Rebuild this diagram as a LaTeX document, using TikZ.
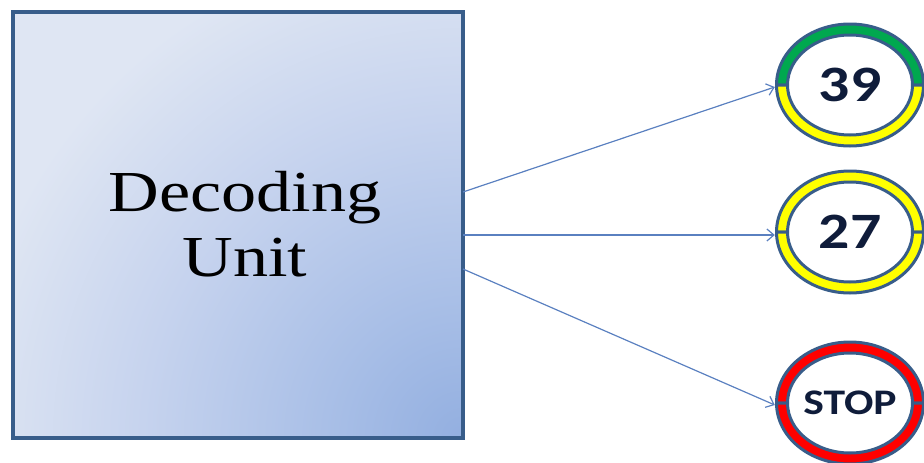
\documentclass[tikz,border=0pt]{standalone}
\usepackage{fontspec}
\usepackage{graphicx}
\setmainfont{Liberation Serif}
\newfontfamily\numfont{Carlito}
\usetikzlibrary{arrows.meta,calc,shapes.geometric}

\definecolor{edgeblue}{HTML}{385D8A}
\definecolor{boxlight}{HTML}{DFE6F3}
\definecolor{arrowblue}{HTML}{5A80C0}
\definecolor{navy}{HTML}{0F1C3A}
\definecolor{ringgreen}{HTML}{00A84F}
\definecolor{ringyellow}{HTML}{FFFF00}
\definecolor{ringred}{HTML}{FF0000}

% soft glow spreading from the lower right corner of the unit
% (the circle's radius corresponds to 25bp of the shading)
\pgfdeclareradialshading{cornerglow}{\pgfpointorigin}{%
  color(0bp)=(rgb,255:red,147;green,175;blue,224);
  color(6bp)=(rgb,255:red,166;green,189;blue,230);
  color(16bp)=(rgb,255:red,198;green,211;blue,238);
  color(25bp)=(rgb,255:red,223;green,230;blue,243);
  color(50bp)=(rgb,255:red,223;green,230;blue,243)}

\tikzset{
  unitbox/.style={draw=edgeblue, line width=4pt, minimum width=450pt, minimum height=425.5pt,
    fill=boxlight, inner sep=0pt,
    path picture={\shade[shading=cornerglow]
      (path picture bounding box.south east) circle[radius=500pt];}},
  unittext/.style={font=\fontsize{58}{65}\selectfont, align=center, text=black, inner sep=0pt},
  value/.style={ellipse, minimum width=150pt, minimum height=124pt, inner sep=0pt, text=navy},
  band/.style={draw=edgeblue, line width=3pt, line join=round},
  link/.style={draw=arrowblue, line width=1.2pt, -{Straight Barb[length=7pt,width=12pt]}},
}

% half of a coloured ring around a value node: centre, start angle, end angle, colour
\newcommand\ringhalf[4]{%
  \filldraw[band, fill=#4]
    ($(#1)+(#2:73.5pt and 61pt)$) arc[start angle=#2, end angle=#3, x radius=73.5pt, y radius=61pt]
    -- ($(#1)+(#3:62.5pt and 50pt)$) arc[start angle=#3, end angle=#2, x radius=62.5pt, y radius=50pt]
    -- cycle;}

\newcommand\wide[1]{\scalebox{1.21}[1]{#1}}

\begin{document}
\begin{tikzpicture}[x=1pt, y=-1pt]
  \useasboundingbox (0,0) rectangle (924,463);

  % decoding unit
  \node[unitbox] (unit) at (237.5,224.75) {};
  \node[unittext] (label) at (245,224) {\wide{Decoding}\\\wide{Unit}};

  % output values
  \node[value, font=\numfont\bfseries\fontsize{51}{60}\selectfont] (v39) at (850,85) {\wide{39}};
  \node[value, font=\numfont\bfseries\fontsize{51}{60}\selectfont] (v27) at (850,232) {\wide{27}};
  \node[value, font=\numfont\bfseries\fontsize{36}{44}\selectfont] (vstop) at (850,403) {\wide{STOP}};

  \ringhalf{v39}{0}{180}{ringgreen}
  \ringhalf{v39}{180}{360}{ringyellow}
  \ringhalf{v27}{0}{180}{ringyellow}
  \ringhalf{v27}{180}{360}{ringyellow}
  \ringhalf{vstop}{0}{180}{ringred}
  \ringhalf{vstop}{180}{360}{ringred}

  % outputs leave the right side of the unit
  \coordinate (o1) at (463,192);
  \coordinate (o2) at (463,235);
  \coordinate (o3) at (463,269);

  \draw[link] (o1) -- ($(v39.west)+(0,2)$);
  \draw[link] (o2) -- ($(v27.west)+(0,3)$);
  \draw[link] (o3) -- ($(vstop.west)+(0,2)$);
\end{tikzpicture}
\end{document}
